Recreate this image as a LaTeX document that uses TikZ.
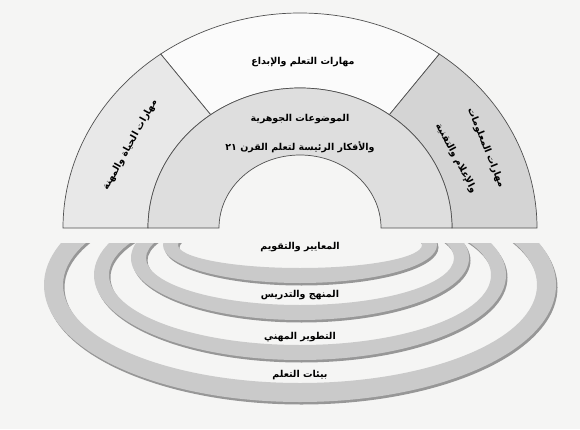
\documentclass[tikz,border=0pt]{standalone}
\usepackage{fontspec}
\usetikzlibrary{positioning}
\newfontfamily\arabicfont[Script=Arabic]{DejaVu Sans}
\TeXXeTstate=1
\definecolor{bgcolor}{RGB}{245,245,244}
\definecolor{topcolor}{RGB}{251,251,251}
\definecolor{leftcolor}{RGB}{232,232,232}
\definecolor{rightcolor}{RGB}{212,212,212}
\definecolor{corecolor}{RGB}{222,222,222}
\definecolor{ringcolor}{RGB}{202,202,202}
\definecolor{edgecolor}{RGB}{80,80,80}

\begin{document}
\begin{tikzpicture}[%
    x=1pt, y=1pt,               % work in (scanned) pixels
    ]
\tikzset{
  seg/.style={draw=edgecolor, line width=0.7pt},
  lbl/.style={font=\arabicfont\bfseries\fontsize{9.5}{11}\selectfont, inner sep=1pt},
  ring/.style={fill=ringcolor, even odd rule},
  ringshadow/.style={fill=black!50, even odd rule, opacity=0.8},
}
\useasboundingbox[fill=bgcolor] (0,0) rectangle (580,429);
\coordinate (O) at (300,201);

% upper half
\begin{scope}[shift={(O)}]
\path[seg, fill=topcolor] (54:237 and 215) arc[start angle=54, end angle=126, x radius=237, y radius=215]
  -- (126:152 and 140) arc[start angle=126, end angle=54, x radius=152, y radius=140] -- cycle;
\path[seg, fill=leftcolor] (126:237 and 215) arc[start angle=126, end angle=180, x radius=237, y radius=215]
  -- (-152,0) arc[start angle=180, end angle=126, x radius=152, y radius=140] -- cycle;
\path[seg, fill=rightcolor] (237,0) arc[start angle=0, end angle=54, x radius=237, y radius=215]
  -- (54:152 and 140) arc[start angle=54, end angle=0, x radius=152, y radius=140] -- cycle;
\path[seg, fill=corecolor] (152,0) arc[start angle=0, end angle=180, x radius=152, y radius=140]
  -- (-81,0) arc[start angle=180, end angle=0, x radius=81, y radius=73] -- cycle;
\end{scope}

\node[lbl] (learn) at (303,367) {\beginR مهارات التعلم والإبداع\endR};
\node[lbl, rotate=61] (life) at (130,284) {\beginR مهارات الحياة والمهنة\endR};
\node[lbl, rotate=-68] (info) at (486,281) {\beginR مهارات المعلومات\endR};
\node[lbl, rotate=-62] (media) at (456,271) {\beginR والإعلام والتقنية\endR};
\node[lbl] (core) at (300,310) {\beginR الموضوعات الجوهرية\endR};
\node[lbl] (ideas) at (300,282) {\beginR والأفكار الرئيسة لتعلم القرن \beginL٢١\endL\endR};

% lower rings
\begin{scope}
\clip (0,0) rectangle (580,186);
\foreach \cy/\rx/\ry/\t in {184/137/38/15, 171/169/62/15, 154/206/85/15, 144/256/117/19} {
  \fill[ringshadow] (301.5,\cy-2.5) ellipse[x radius=\rx, y radius=\ry]
    (301.5,\cy-2.5) ellipse[x radius=\rx-\t, y radius=\ry-\t];
  \fill[ring] (300,\cy) ellipse[x radius=\rx, y radius=\ry]
    (300,\cy) ellipse[x radius=\rx-\t, y radius=\ry-\t];
}
\end{scope}

\node[lbl] (eval) at (300,182) {\beginR المعايير والتقويم\endR};
\node[lbl] (curr) at (300,134) {\beginR المنهج والتدريس\endR};
\node[lbl] (prof) at (300,92) {\beginR التطوير المهني\endR};
\node[lbl] (env) at (300,54) {\beginR بيئات التعلم\endR};

\end{tikzpicture}
\end{document}
